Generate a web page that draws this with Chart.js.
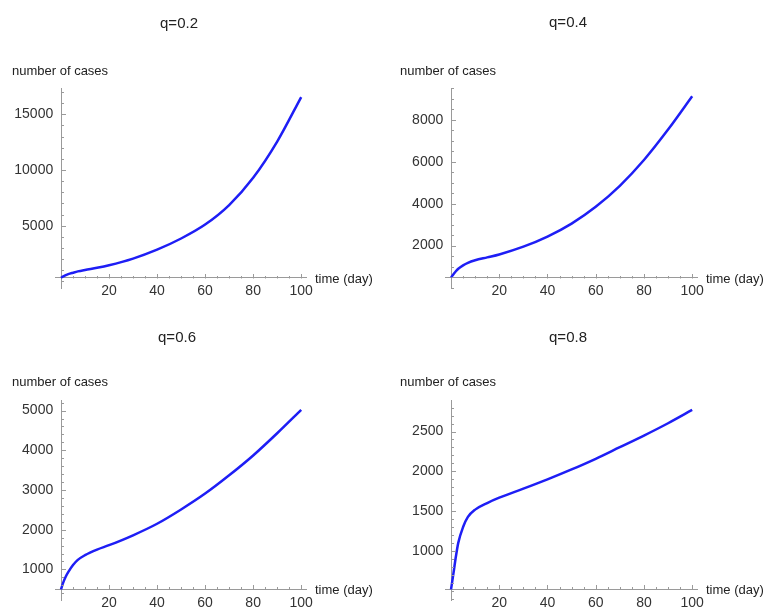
<!DOCTYPE html>
<html>
<head>
<meta charset="utf-8">
<script src="https://cdn.jsdelivr.net/npm/chart.js@4.4.1/dist/chart.umd.min.js"></script>
<style>
    body { margin: 0; background: #fff; }
    #contenedor { position: relative; width: 765px; height: 612px; }
    canvas { position: absolute; }
</style>
</head>
<body>
<div id="contenedor">
    <canvas id="g1" width="383" height="306" style="left:0;top:0"></canvas>
    <canvas id="g2" width="382" height="306" style="left:383px;top:0"></canvas>
    <canvas id="g3" width="383" height="306" style="left:0;top:306px"></canvas>
    <canvas id="g4" width="382" height="306" style="left:383px;top:306px"></canvas>
</div>
<script>
// datos
const dias = [0, 1, 2, 3, 5, 7, 10, 15, 20, 30, 40, 50, 60, 70, 80, 90, 100];
const casosQ02 = [330, 450, 560, 650, 780, 900, 1030, 1220, 1450, 2050, 2850, 3850, 5100, 6850, 9300, 12550, 16550];
const casosQ04 = [480, 640, 780, 900, 1060, 1180, 1300, 1440, 1580, 1950, 2430, 3050, 3850, 4850, 6080, 7530, 9120];
const casosQ06 = [500, 680, 820, 930, 1110, 1240, 1360, 1500, 1610, 1860, 2150, 2510, 2910, 3370, 3870, 4430, 5020];
const casosQ08 = [515, 716, 925, 1100, 1300, 1426, 1518, 1601, 1668, 1781, 1898, 2023, 2157, 2303, 2449, 2604, 2771];

const titulos = ['q=0.2', 'q=0.4', 'q=0.6', 'q=0.8'];
const ticksX = [20, 40, 60, 80, 100];
const ticksQ02 = [5000, 10000, 15000];
const ticksQ04 = [2000, 4000, 6000, 8000];
const ticksQ06 = [1000, 2000, 3000, 4000, 5000];
const ticksQ08 = [1000, 1500, 2000, 2500];

const fuente = '"Liberation Sans", Arial, sans-serif';

// marcas menores, titulo y etiquetas de ejes
const marcas = {
    id: 'marcas',
    afterDraw(chart, args, opts) {
        const ctx = chart.ctx;
        const x = chart.scales.x;
        const y = chart.scales.y;
        const x0 = Math.round(x.getPixelForValue(0)) + 0.5;
        const y0 = Math.round(y.getPixelForValue(opts.origen)) + 0.5;

        ctx.save();
        ctx.strokeStyle = '#9a9a9a';
        ctx.lineWidth = 1;
        ctx.beginPath();
        for (let d = 5; d <= 100; d += 5) {
            const px = Math.round(x.getPixelForValue(d)) + 0.5;
            const largo = d % 20 === 0 ? 4.5 : 2.5;
            ctx.moveTo(px, y0);
            ctx.lineTo(px, y0 - largo);
        }
        for (let v = Math.ceil(y.min / opts.paso) * opts.paso; v <= y.max; v += opts.paso) {
            const py = Math.round(y.getPixelForValue(v)) + 0.5;
            const largo = opts.ticks.includes(v) ? 4.5 : 2.5;
            ctx.moveTo(x0, py);
            ctx.lineTo(x0 + largo, py);
        }
        ctx.stroke();

        ctx.fillStyle = '#222';
        ctx.font = '15px ' + fuente;
        ctx.textAlign = 'center';
        ctx.textBaseline = 'alphabetic';
        ctx.fillText(opts.titulo, opts.tituloX, opts.tituloY);

        ctx.font = '13px ' + fuente;
        ctx.textAlign = 'left';
        ctx.fillText('number of cases', opts.etiquetaX, opts.etiquetaY);
        ctx.fillText('time (day)', x.right + 9, y0 + 4.5);
        ctx.restore();
    }
};

function crearGrafico(id, casos, ticksY, p) {
    const ctx = document.getElementById(id).getContext('2d');
    return new Chart(ctx, {
        type: 'line',
        data: {
            labels: dias,
            datasets: [{
                data: dias.map((d, i) => ({ x: d, y: casos[i] })),
                borderColor: 'rgb(30,30,245)',
                borderWidth: 2.5,
                pointRadius: 0,
                cubicInterpolationMode: 'monotone',
                fill: false
            }]
        },
        options: {
            responsive: false,
            animation: false,
            devicePixelRatio: 1,
            layout: { padding: p.relleno },
            plugins: {
                legend: { display: false },
                tooltip: { enabled: false },
                marcas: {
                    origen: p.origen, paso: p.paso, ticks: ticksY,
                    titulo: p.titulo, tituloX: p.tituloX, tituloY: p.tituloY,
                    etiquetaX: p.etiquetaX, etiquetaY: p.etiquetaY
                }
            },
            scales: {
                x: {
                    type: 'linear',
                    min: -2.5,
                    max: 102,
                    position: { y: p.origen },
                    grid: { display: false, drawTicks: false },
                    border: { display: true, color: '#9a9a9a', width: 1 },
                    afterBuildTicks: (escala) => { escala.ticks = ticksX.map(v => ({ value: v })); },
                    ticks: {
                        autoSkip: false, maxRotation: 0, padding: 5,
                        color: '#333', font: { family: fuente, size: 14 },
                        callback: (v) => String(v)
                    }
                },
                y: {
                    type: 'linear',
                    min: p.minY,
                    max: p.maxY,
                    position: { x: 0 },
                    grid: { display: false, drawTicks: false },
                    border: { display: true, color: '#9a9a9a', width: 1 },
                    afterBuildTicks: (escala) => { escala.ticks = ticksY.map(v => ({ value: v })); },
                    ticks: {
                        autoSkip: false,
                        color: '#333', font: { family: fuente, size: 14 },
                        // el eje en posicion fija no deja hueco, se agrega con espacios
                        callback: (v) => String(v) + '  '
                    }
                }
            }
        },
        plugins: [marcas]
    });
}

crearGrafico('g1', casosQ02, ticksQ02, {
    titulo: titulos[0], tituloX: 179, tituloY: 28, etiquetaX: 12, etiquetaY: 74.5,
    origen: 330, paso: 1000, minY: -592, maxY: 17361,
    relleno: { left: 55, right: 77, top: 88, bottom: 18 }
});
crearGrafico('g2', casosQ04, ticksQ04, {
    titulo: titulos[1], tituloX: 185, tituloY: 27, etiquetaX: 17, etiquetaY: 74.5,
    origen: 480, paso: 500, minY: -20, maxY: 9514,
    relleno: { left: 62, right: 68, top: 88, bottom: 18 }
});
crearGrafico('g3', casosQ06, ticksQ06, {
    titulo: titulos[2], tituloX: 177, tituloY: 36, etiquetaX: 12, etiquetaY: 79.5,
    origen: 500, paso: 200, minY: 230, maxY: 5267,
    relleno: { left: 55, right: 77, top: 94, bottom: 12 }
});
crearGrafico('g4', casosQ08, ticksQ08, {
    titulo: titulos[3], tituloX: 185, tituloY: 36, etiquetaX: 17, etiquetaY: 79.5,
    origen: 515, paso: 100, minY: 382, maxY: 2896,
    relleno: { left: 62, right: 68, top: 94, bottom: 12 }
});
</script>
</body>
</html>
